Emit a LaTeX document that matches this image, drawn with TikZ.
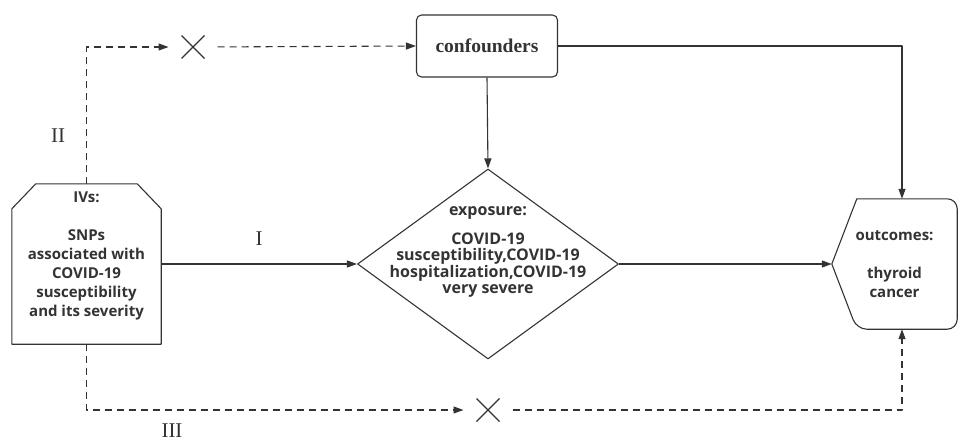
\documentclass[tikz,border=0pt]{standalone}
\usepackage{fontspec}
\setmainfont{Liberation Serif}
\setsansfont{Open Sans}
\usetikzlibrary{shapes.geometric,shapes.misc,arrows.meta,positioning}
\definecolor{ink}{HTML}{333333}

\begin{document}
\begin{tikzpicture}[x=1pt,y=-1pt,>={Triangle[length=10pt,width=7pt]},line join=round,
 box/.style={draw=ink,line width=1.1pt,inner sep=0pt},
 boxtext/.style={text=ink,font=\sffamily\bfseries\fontsize{15}{19}\selectfont,align=center},
 link/.style={draw=ink,line width=1.1pt,->},
 dashlink/.style={link,dash pattern=on 7pt off 5pt},
 nope/.style={cross out,draw=ink,line width=1.1pt,minimum size=23pt,inner sep=0pt,outer sep=0pt},
 numeral/.style={text=ink,font=\fontsize{21}{21}\selectfont}]
 \useasboundingbox (0,0) rectangle (958,442);
 % boxes
 \node[inner sep=0pt,minimum width=149pt,minimum height=160pt] (ivs) at (86.5,264) {};
 \draw[box] ([xshift=24pt]ivs.north west) -- ([xshift=-24pt]ivs.north east)
  -- ([yshift=-25pt]ivs.north east) -- (ivs.south east) -- (ivs.south west)
  -- ([yshift=-25pt]ivs.north west) -- cycle;
 \node[boxtext] (ivstext) at ([yshift=8pt]ivs.center)
  {IVs:\\[19pt]SNPs\\associated with\\COVID-19\\susceptibility\\and its severity};
 \node[box,rounded corners=5pt,minimum width=141pt,minimum height=62pt,text=ink,
  font=\bfseries\fontsize{19.5}{19.5}\selectfont] (conf) at (487,46) {confounders};
 \node[box,diamond,minimum width=261pt,minimum height=190pt] (expo) at (488,264) {};
 \node[boxtext,font=\sffamily\bfseries\fontsize{16}{16.5}\selectfont] (expotext) at ([yshift=12pt]expo.center)
  {exposure:\\[12pt]COVID-19\\susceptibility,COVID-19\\hospitalization,COVID-19\\very severe};
 \node[boxtext,inner sep=0pt,minimum width=125pt,minimum height=130pt] (outc) at (894.5,264)
  {outcomes:\\[19pt]thyroid\\cancer};
 \draw[draw=ink,line width=1.1pt] (outc.west) -- ([xshift=25pt]outc.north west)
  [rounded corners=10pt] -- (outc.north east) -- (outc.south east)
  -- ([xshift=25pt]outc.south west) [sharp corners] -- cycle;
 % crossed paths
 \node[nope] (nope1) at (193,47) {};
 \node[nope] (nope2) at (488,410) {};
 % links
 \draw[link] (ivs.east) -- (expo.west);
 \draw[link] (expo.east) -- (outc.west);
 \draw[link] (conf.south) -- (expo.north);
 \draw[link] (conf.east) -| ([xshift=7.5pt]outc.north);
 \draw[dashlink,shorten >=13pt] (ivs.north) |- (nope1.west);
 \draw[dashlink,shorten <=13pt] (nope1.east) -- (conf.west);
 \draw[dashlink,shorten >=13pt] (ivs.south) |- (nope2.west);
 \draw[dashlink,shorten <=13pt] (nope2.east) -| ([xshift=7.5pt]outc.south);
 % path labels
 \node[numeral] (one) at (259,239) {I};
 \node[numeral] (two) at (58,136) {II};
 \node[numeral] (three) at (172,431) {III};
\end{tikzpicture}
\end{document}
